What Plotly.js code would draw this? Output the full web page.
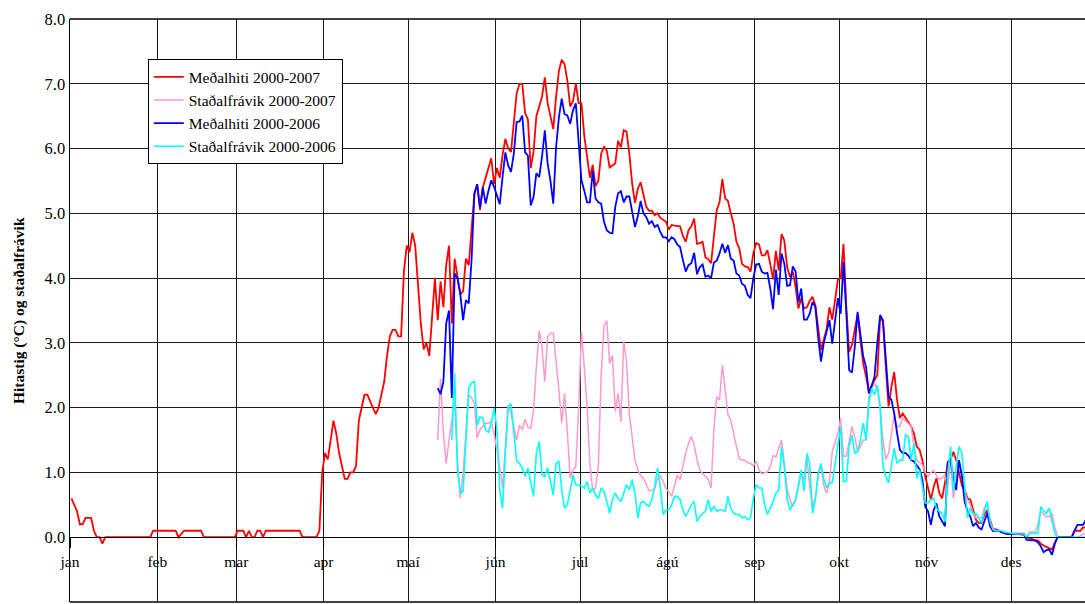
<!DOCTYPE html>
<html>
<head>
<meta charset="utf-8">
<script src="https://cdn.plot.ly/plotly-3.0.1.min.js"></script>
<style>html,body{margin:0;padding:0;background:#fff;}#chart{width:1085px;height:604px;}</style>
</head>
<body>
<div id="chart"></div>
<script>
// Month labels and lengths (day-of-year category axis)
const monthLabels = ['jan','feb','mar','apr','maí','jún','júl','ágú','sep','okt','nóv','des'];
const monthDays = [31,28,31,30,31,30,31,31,30,31,30,31];
const yTickValues = [-1,0,1,2,3,4,5,6,7,8];

const seriesNames = ['Meðalhiti 2000-2007','Staðalfrávik 2000-2007','Meðalhiti 2000-2006','Staðalfrávik 2000-2006'];

// Meðalhiti 2000-2007, starts day 1
const redStart = 1;
const redMean = [
0.6,0.5,0.4,0.2,0.2,0.3,0.3,0.3,0.1,0.0,
0.0,-0.1,0,0,0,0,0,0,0,0,
0,0,0,0,0,0,0,0,0,0.1,
0.1,0.1,0.1,0.1,0.1,0.1,0.1,0.1,0.0,0.05,
0.1,0.1,0.1,0.1,0.1,0.1,0.1,0,0,0,
0,0,0,0,0,0,0,0,0,0.1,
0.1,0.1,0,0.1,0,0,0.1,0.1,0,0.1,
0.1,0.1,0.1,0.1,0.1,0.1,0.1,0.1,0.1,0.1,
0.1,0.1,0,0,0,0,0,0,0.1,1.0,
1.3,1.2,1.5,1.8,1.6,1.3,1.1,0.9,0.9,1.0,
1.0,1.1,1.8,2.0,2.2,2.2,2.1,2.0,1.9,2.0,
2.2,2.4,2.8,3.1,3.2,3.2,3.1,3.1,4.1,4.5,
4.4,4.7,4.5,3.9,3.3,2.9,3.0,2.8,3.4,4.0,
3.35,3.95,3.55,4.2,4.5,3.3,4.3,4.0,3.75,3.8,
4.3,4.2,4.75,5.3,5.45,5.05,5.4,5.55,5.7,5.85,
5.45,5.7,5.55,5.9,6.15,6.0,5.95,6.45,6.85,7.0,
7.0,6.55,6.45,5.7,5.95,6.5,6.65,6.8,7.1,6.7,
6.5,6.3,6.8,7.2,7.37,7.3,7.05,6.65,6.73,7.0,
6.7,6.7,6.2,5.9,5.55,5.75,5.42,5.5,5.92,6.03,
5.97,5.71,5.74,5.77,6.12,6.02,6.28,6.26,5.92,5.46,
5.16,5.38,5.48,5.28,5.1,5.04,5.04,4.97,5.0,4.93,
4.9,4.87,4.75,4.82,4.81,4.81,4.8,4.65,4.56,4.74,
4.8,4.92,4.53,4.54,4.56,4.32,4.29,4.23,4.63,5.05,
5.17,5.53,5.23,5.19,5.0,4.84,4.56,4.46,4.22,4.18,
4.17,4.1,4.38,4.54,4.52,4.35,4.35,4.43,4.22,3.98,
4.42,4.12,4.68,4.58,4.17,4.02,4.1,3.86,3.53,3.69,
3.53,3.55,3.65,3.71,3.58,3.2,2.89,3.05,3.22,3.55,
3.36,3.66,3.98,4.0,4.53,3.56,2.86,2.97,3.22,3.44,
3.04,2.68,2.48,2.25,2.35,2.43,2.5,3.4,3.33,2.63,
2.02,2.32,2.55,2.12,1.84,1.91,1.84,1.78,1.71,1.6,
1.4,1.35,1.19,0.94,0.78,0.58,0.78,0.91,0.68,0.6,
0.84,1.17,1.2,1.32,1.19,1.0,0.8,0.73,0.6,0.58,
0.42,0.27,0.22,0.22,0.35,0.42,0.27,0.13,0.12,0.1,
0.08,0.07,0.06,0.06,0.05,0.05,0.05,0.04,0.04,0.0,
-0.01,-0.03,-0.05,-0.05,-0.1,-0.13,-0.15,-0.17,-0.19,-0.08,
0,0,0,0,0,0,0.1,0.1,0.1,0.15,0.15
];

// Staðalfrávik 2000-2007, starts day 131
const pinkStart = 131;
const pinkStd = [
1.5,2.45,1.61,1.14,1.5,1.8,2.1,1.2,0.6,1.0,
1.6,2.2,2.15,2.07,1.53,1.66,1.71,1.76,1.76,1.78,
1.6,1.35,1.09,0.76,1.45,2.04,1.91,1.7,1.5,1.73,
1.66,1.82,1.7,1.68,1.96,2.63,3.19,2.94,2.4,3.09,
3.15,3.15,2.73,2.27,1.76,2.22,1.61,0.91,1.04,1.09,
2.0,3.17,2.63,2.02,1.14,0.73,0.76,1.09,2.5,3.27,
3.34,2.68,2.81,1.94,2.22,1.78,3.02,2.71,1.9,1.5,
1.19,1.04,0.95,0.91,0.8,0.72,0.72,0.75,0.9,0.95,
0.86,0.75,0.7,0.63,0.79,0.96,0.89,1.1,1.3,1.45,
1.55,1.43,1.2,1.04,0.98,0.94,0.89,0.76,1.66,2.17,
2.12,2.66,2.27,1.89,1.81,1.58,1.4,1.22,1.19,1.19,
1.15,1.14,1.1,1.17,1.04,0.98,1.0,1.01,1.09,1.26,
1.24,1.37,1.5,1.14,0.75,0.58,0.47,0.58,0.8,0.99,
0.89,1.25,0.78,0.47,0.6,0.99,1.09,0.8,0.68,0.84,
1.32,1.45,1.6,1.84,1.25,1.25,1.5,1.71,1.55,1.32,
1.4,1.5,1.5,2.17,2.3,2.38,2.27,2.0,1.5,1.2,
1.3,1.6,1.89,1.7,1.71,1.84,1.8,1.76,1.71,1.4,
1.19,1.15,1.12,1.0,0.94,1.0,1.03,0.95,0.89,0.92,
0.94,0.78,1.19,0.6,0.9,1.19,0.99,0.68,0.58,0.5,
0.37,0.3,0.3,0.3,0.45,0.53,0.22,0.13,0.1,0.09,
0.08,0.07,0.07,0.06,0.06,0.06,0.06,0.06,0.06,0.0,
0.08,0.08,0.08,0.2,0.4,0.35,0.32,0.32,0.37,0.15,
0,0,0,0,0,0,0,0,0.02,0.05,0.05
];

// Meðalhiti 2000-2006, starts day 131
const blueStart = 131;
const blueMean = [
2.3,2.21,2.4,3.3,3.5,2.15,4.07,4.0,3.76,3.35,
3.66,3.61,4.28,5.3,5.45,5.09,5.4,5.15,5.35,5.51,
5.41,5.28,5.14,5.56,5.94,5.74,5.64,5.92,6.41,6.42,
6.51,5.94,5.89,5.12,5.25,5.62,5.56,5.87,6.28,5.77,
5.5,5.15,6.02,6.48,6.77,6.53,6.51,6.38,6.59,6.7,
6.12,5.51,5.35,5.17,5.17,5.66,5.23,5.17,5.15,4.87,
4.74,4.7,4.69,5.1,5.31,5.34,5.17,5.26,5.26,5.0,
4.79,4.95,5.19,5.0,4.94,4.84,4.88,4.79,4.82,4.71,
4.63,4.63,4.57,4.63,4.6,4.52,4.48,4.28,4.1,4.2,
4.23,4.39,4.06,4.17,4.21,4.02,4.04,4.0,4.24,4.27,
4.38,4.53,4.39,4.51,4.3,4.27,4.07,4.04,3.91,3.88,
3.74,3.69,4.0,4.21,4.22,4.1,4.07,4.08,3.84,3.52,
4.13,3.74,4.38,4.22,3.88,3.89,4.18,4.1,3.63,3.84,
3.36,3.36,3.45,3.63,3.56,3.09,2.71,3.0,3.17,3.35,
2.99,3.35,3.69,3.45,4.25,3.45,2.58,2.54,2.94,3.48,
3.17,2.79,2.63,2.22,2.33,2.48,3.0,3.43,3.35,2.73,
2.17,2.12,1.91,1.61,1.35,1.3,1.3,1.26,1.19,1.17,
1.1,1.05,0.89,0.47,0.4,0.19,0.42,0.52,0.32,0.24,
0.17,1.15,1.19,0.9,0.73,1.19,0.94,0.55,0.4,0.32,
0.17,0.22,0.15,0.12,0.25,0.37,0.17,0.1,0.1,0.1,
0.08,0.06,0.05,0.05,0.05,0.05,0.05,0.05,0.05,-0.04,
-0.05,-0.05,-0.05,-0.08,-0.14,-0.23,-0.2,-0.19,-0.27,-0.1,
0,0,0,0,0,0,0.1,0.19,0.19,0.19,0.27
];

// Staðalfrávik 2000-2006, starts day 136
const cyanStart = 136;
const cyanStd = [
1.5,2.53,1.04,0.68,0.71,
1.61,2.3,2.38,2.41,1.73,1.86,1.84,1.65,1.62,1.76,
1.99,1.68,0.73,0.45,1.3,2.02,2.06,1.66,1.18,1.14,
1.07,0.94,1.07,0.84,0.63,1.3,1.48,0.96,0.94,1.07,
0.84,0.65,1.14,1.17,0.73,0.45,0.5,0.71,0.96,0.81,
0.8,0.79,0.76,0.86,0.68,0.76,0.65,0.6,0.76,0.71,
0.55,0.37,0.58,0.68,0.6,0.55,0.68,0.81,0.73,0.89,
0.68,0.3,0.53,0.55,0.5,0.48,0.58,0.78,1.07,0.78,
0.35,0.42,0.42,0.5,0.63,0.63,0.58,0.42,0.32,0.42,
0.5,0.55,0.24,0.32,0.36,0.4,0.58,0.4,0.48,0.4,
0.42,0.42,0.4,0.63,0.45,0.37,0.35,0.35,0.3,0.32,
0.27,0.3,0.6,0.81,0.76,0.76,0.5,0.35,0.45,0.55,
0.68,0.73,1.4,1.09,0.6,0.42,0.5,0.58,0.8,1.04,
0.71,1.29,1.14,0.37,0.58,0.96,1.14,0.9,0.76,0.84,
0.84,1.14,1.4,1.71,0.86,0.86,1.4,1.58,1.3,1.32,
1.5,1.76,1.5,2.07,2.3,2.2,2.35,2.02,1.09,0.94,
0.84,1.14,1.37,1.14,1.19,1.19,1.58,1.55,1.19,1.45,
0.91,1.04,0.79,0.53,0.53,0.58,0.6,0.45,0.4,0.37,
0.24,0.99,1.4,0.71,1.1,1.4,1.3,0.73,0.3,0.45,
0.35,0.37,0.3,0.22,0.4,0.55,0.24,0.12,0.1,0.1,
0.1,0.08,0.07,0.06,0.06,0.05,0.05,0.05,0.05,0.0,
0.06,0.06,0.06,0.06,0.47,0.4,0.37,0.45,0.25,0.05,
0,0,0,0,0,0,0,0,0,0,0
];

function days(start, arr){ return arr.map((_, i) => start + i); }

// month boundary positions on the day-category axis
const monthTicks = [];
let acc = 0;
for (let i = 0; i < monthDays.length; i++) { monthTicks.push(acc + 0.5); acc += monthDays[i]; }

const colors = ['#ff0000','#ff99cc','#0000ff','#00ffff'];
const widths = [1.8,1.5,1.8,1.6];
const dataSets = [[redStart, redMean],[pinkStart, pinkStd],[blueStart, blueMean],[cyanStart, cyanStd]];

const traces = dataSets.map((d, k) => ({
  type:'scatter', mode:'lines',
  x: days(d[0], d[1]), y: d[1],
  name: seriesNames[k], legendgroup:'g'+k,
  line:{color:colors[k], width:widths[k]},
  hoverinfo:'skip'
}));

const serif = '"Liberation Serif", "Times New Roman", serif';
const layout = {
  width:1085, height:604,
  margin:{l:70, r:0, t:19, b:2, pad:0},
  paper_bgcolor:'#ffffff', plot_bgcolor:'#ffffff',
  font:{family:serif, color:'#000', size:15},
  showlegend:true,
  xaxis:{
    range:[0.5, 360.7], tickmode:'array', tickvals:monthTicks, ticktext:monthLabels,
    anchor:'free', position:1/9,
    showline:true, linecolor:'#000', linewidth:1,
    showgrid:true, gridcolor:'#1a1a1a', gridwidth:1,
    ticks:'outside', ticklen:10, tickcolor:'#000', tickwidth:1,
    zeroline:false, tickfont:{family:serif, size:15.5, color:'#000'}, fixedrange:true
  },
  yaxis:{
    range:[-1, 8], tickmode:'array', tickvals:yTickValues,
    ticktext:yTickValues.map(v => v.toFixed(1)),
    showgrid:true, gridcolor:'#1a1a1a', gridwidth:1,
    showline:true, linecolor:'#000', linewidth:1.5,
    zeroline:false, ticks:'', tickfont:{family:serif, size:16.5, color:'#000'}, fixedrange:true
  },
  legend:{
    x:0.0766, y:0.931, xanchor:'left', yanchor:'top',
    bgcolor:'#ffffff', bordercolor:'#000', borderwidth:1,
    font:{family:serif, size:15.5, color:'#000'},
    itemwidth:30, traceorder:'grouped', tracegroupgap:0
  },
  annotations:[{
    text:'<b>Hitastig (°C) og staðalfrávik</b>', xref:'paper', yref:'paper',
    x:-0.0507, y:0.5, xanchor:'center', yanchor:'middle', textangle:-90,
    showarrow:false, font:{family:serif, size:15.5, color:'#000'}
  }],
  shapes:[
    {type:'line', xref:'paper', yref:'paper', x0:0, x1:1, y0:1, y1:1, line:{color:'#000', width:1.5}},
    {type:'line', xref:'paper', yref:'paper', x0:0, x1:1, y0:0, y1:0, line:{color:'#000', width:1.5}}
  ]
};

Plotly.newPlot('chart', traces, layout, {displayModeBar:false, staticPlot:true});
</script>
</body>
</html>
